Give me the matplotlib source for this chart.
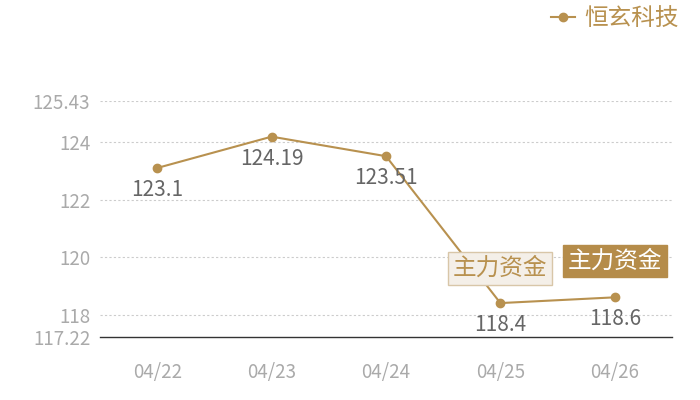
import matplotlib
matplotlib.use("Agg")
import matplotlib.pyplot as plt

plt.rcParams['font.family'] = ['Noto Sans CJK SC', 'DejaVu Sans']

dates = ['04/22', '04/23', '04/24', '04/25', '04/26']
prices = [123.1, 124.19, 123.51, 118.4, 118.6]
yticks = [117.22, 118, 120, 122, 124, 125.43]
ytick_labels = ['117.22', '118', '120', '122', '124', '125.43']
series_name = '恒玄科技'
flag_text = '主力资金'

gold = '#b8914f'

fig = plt.figure(figsize=(7, 4), dpi=100)
ax = fig.add_axes([100 / 700, 63 / 400, 572 / 700, 236 / 400])

x = list(range(len(dates)))
ax.plot(x, prices, color=gold, lw=1.5, marker='o', ms=6, label=series_name, zorder=3)

for xi, v in zip(x, prices):
    ax.annotate(f'{v:g}', (xi, v), xytext=(0, -8), textcoords='offset points',
                ha='center', va='top', fontsize=15, color='#666666')

# flags
ax.annotate(flag_text, (3, prices[3]), xytext=(0, 25), textcoords='offset points',
            ha='center', va='center', fontsize=17, color=gold,
            bbox=dict(boxstyle='square,pad=0.2', fc='#f4efe8', ec='#d8c6a8', lw=1))
ax.annotate(flag_text, (4, prices[4]), xytext=(0, 26), textcoords='offset points',
            ha='center', va='center', fontsize=17, color='white',
            bbox=dict(boxstyle='square,pad=0.2', fc='#b58c4a', ec='#b58c4a', lw=1))

ax.set_xlim(-0.5, 4.5)
ax.set_ylim(117.22, 125.43)
ax.set_xticks(x)
ax.set_xticklabels(dates)
ax.set_yticks(yticks)
ax.set_yticklabels(ytick_labels)
ax.tick_params(length=0, labelsize=13.5, colors='#aaaaaa', pad=7)
ax.tick_params(axis='x', labelsize=13.5, pad=18)

for yv in yticks[1:]:
    ax.axhline(yv, color='#cccccc', lw=0.8, ls=(0, (2, 2)), zorder=1)

for s in ['top', 'right', 'left']:
    ax.spines[s].set_visible(False)
ax.spines['bottom'].set_color('#333333')
ax.spines['bottom'].set_linewidth(1)

leg = fig.legend(loc='upper right', bbox_to_anchor=(1.0, 1.035), frameon=False,
                 fontsize=17, handlelength=1.0, handletextpad=0.4)
for t in leg.get_texts():
    t.set_color(gold)

fig.savefig('out.png', dpi=100)
